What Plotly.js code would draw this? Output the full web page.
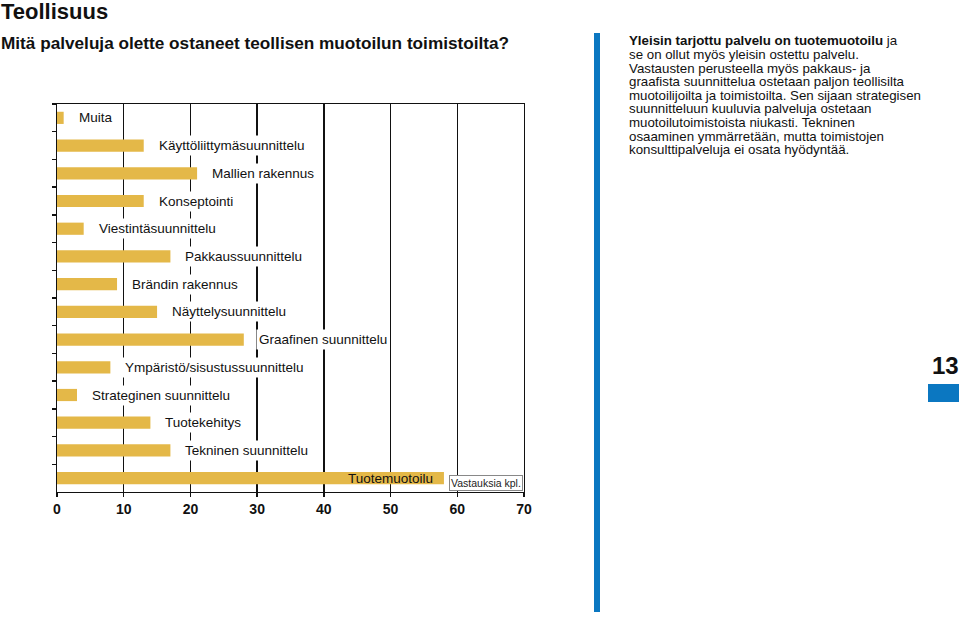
<!DOCTYPE html>
<html>
<head>
<meta charset="utf-8">
<script src="https://cdn.plot.ly/plotly-3.0.1.min.js"></script>
<style>html,body{margin:0;padding:0;background:#fff;}#chart{width:959px;height:617px;}</style>
</head>
<body>
<div id="chart"></div>
<script>
const categories = [
  "Muita",
  "Käyttöliittymäsuunnittelu",
  "Mallien rakennus",
  "Konseptointi",
  "Viestintäsuunnittelu",
  "Pakkaussuunnittelu",
  "Brändin rakennus",
  "Näyttelysuunnittelu",
  "Graafinen suunnittelu",
  "Ympäristö/sisustussuunnittelu",
  "Strateginen suunnittelu",
  "Tuotekehitys",
  "Tekninen suunnittelu",
  "Tuotemuotoilu"
];
const values = [1, 13, 21, 13, 4, 17, 9, 15, 28, 8, 3, 14, 17, 58];
const xTickVals = [0, 10, 20, 30, 40, 50, 60, 70];
const xTickText = ["0", "10", "20", "30", "40", "50", "60", "70"];
const titleText = "Teollisuus";
const subtitleText = "Mitä palveluja olette ostaneet teollisen muotoilun toimistoilta?";
const unitText = "Vastauksia kpl.";
const sideLines = [
  "<b>Yleisin tarjottu palvelu on tuotemuotoilu</b> ja",
  "se on ollut myös yleisin ostettu palvelu.",
  "Vastausten perusteella myös pakkaus- ja",
  "graafista suunnittelua ostetaan paljon teollisilta",
  "muotoilijoilta ja toimistoilta. Sen sijaan strategisen",
  "suunnitteluun kuuluvia palveluja ostetaan",
  "muotoilutoimistoista niukasti. Tekninen",
  "osaaminen ymmärretään, mutta toimistojen",
  "konsulttipalveluja ei osata hyödyntää."
];
const pageNumber = "13";

// layout geometry (pixels)
const W = 959, H = 617, L = 57, R = 524, T = 104, B = 492;
const px = x => (x - L) / (R - L);
const py = y => (B - y) / (B - T);

const FONT = "Liberation Sans, Arial, Helvetica, sans-serif";
const barColor = "rgb(228,184,72)";
const blue = "#0b77c1";

const trace = {
  type: "bar",
  orientation: "h",
  x: values,
  y: categories,
  marker: {color: barColor, line: {width: 0}},
  width: 0.44,
  hoverinfo: "x+y"
};

const annotations = [];
categories.forEach((c, i) => {
  const inside = values[i] > 50;
  annotations.push({
    x: values[i], y: c, xref: "x", yref: "y",
    text: c, showarrow: false,
    xanchor: inside ? "right" : "left",
    xshift: inside ? -8 : 12,
    bgcolor: inside ? "rgba(0,0,0,0)" : "#ffffff",
    borderpad: 2,
    font: {family: FONT, size: 13.5, color: "#111"}
  });
});

annotations.push({
  x: 70, y: 0, xref: "x", yref: "paper",
  text: unitText, showarrow: false,
  xanchor: "right", yanchor: "bottom",
  xshift: -1, yshift: 1,
  bgcolor: "#ffffff", bordercolor: "#888", borderwidth: 1, borderpad: 1,
  font: {family: FONT, size: 10.5, color: "#222"}
});

annotations.push({
  x: px(0), y: py(12), xref: "paper", yref: "paper",
  text: "<b>" + titleText + "</b>", showarrow: false,
  xanchor: "left", yanchor: "middle", borderpad: 0,
  font: {family: FONT, size: 22, color: "#111"}
});
annotations.push({
  x: px(0), y: py(43), xref: "paper", yref: "paper",
  text: "<b>" + subtitleText + "</b>", showarrow: false,
  xanchor: "left", yanchor: "middle", borderpad: 0,
  font: {family: FONT, size: 17.2, color: "#111"}
});

sideLines.forEach((t, i) => {
  annotations.push({
    x: px(627), y: py(41 + i * 13.6), xref: "paper", yref: "paper",
    text: t, showarrow: false,
    xanchor: "left", yanchor: "middle",
    font: {family: FONT, size: 13.3, color: "#111"}
  });
});

annotations.push({
  x: px(961), y: py(365), xref: "paper", yref: "paper",
  text: "<b>" + pageNumber + "</b>", showarrow: false,
  xanchor: "right", yanchor: "middle",
  font: {family: FONT, size: 24, color: "#111"}
});

const shapes = [
  {type: "rect", xref: "paper", yref: "paper",
   x0: px(594), x1: px(600), y0: py(33), y1: py(612),
   fillcolor: blue, line: {width: 0}},
  {type: "rect", xref: "paper", yref: "paper",
   x0: px(928), x1: px(960), y0: py(384), y1: py(402),
   fillcolor: blue, line: {width: 0}}
];

const layout = {
  width: W, height: H,
  margin: {l: L, r: W - R, t: T, b: H - B, pad: 0},
  paper_bgcolor: "#ffffff",
  plot_bgcolor: "#ffffff",
  showlegend: false,
  font: {family: FONT, color: "#111"},
  xaxis: {
    range: [0, 70],
    tickvals: xTickVals, ticktext: xTickText,
    showgrid: true, gridcolor: "#111", gridwidth: 1.3,
    zeroline: false,
    showline: true, linecolor: "#111", linewidth: 1.3, mirror: true,
    ticks: "outside", ticklen: 4, tickcolor: "#111", tickwidth: 1.3,
    tickfont: {family: FONT, size: 14, color: "#111", weight: "bold"},
    fixedrange: true
  },
  yaxis: {
    type: "category",
    categoryorder: "array", categoryarray: categories,
    autorange: "reversed",
    tickson: "boundaries",
    ticks: "outside", ticklen: 4, tickcolor: "#111", tickwidth: 1.3,
    showticklabels: false,
    showgrid: false, zeroline: false,
    showline: true, linecolor: "#111", linewidth: 1.3, mirror: true,
    fixedrange: true
  },
  annotations: annotations,
  shapes: shapes
};

Plotly.newPlot("chart", [trace], layout, {displayModeBar: false, staticPlot: true});
</script>
</body>
</html>
